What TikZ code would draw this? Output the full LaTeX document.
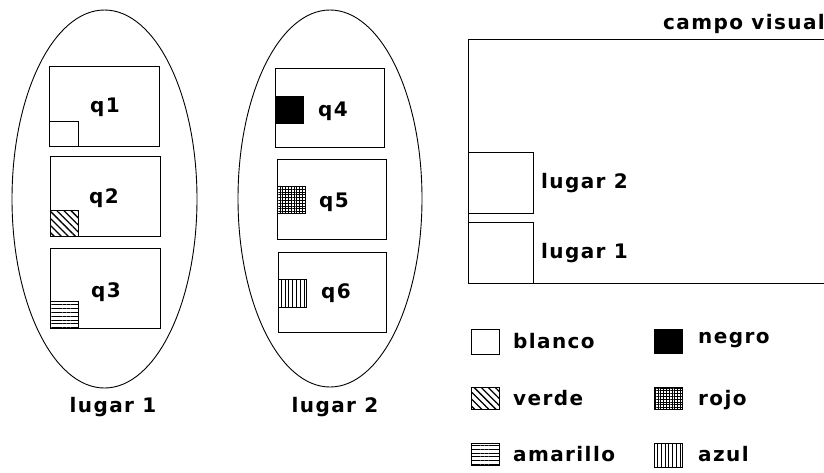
\documentclass[tikz,border=0pt]{standalone}
\usepackage{fontspec}
\setmainfont{DejaVu Sans}[BoldFont={DejaVu Sans Bold}]
\newfontfamily\lblfont{DejaVu Sans Bold}[LetterSpace=7]
\usetikzlibrary{patterns.meta}
\tikzset{
  frame/.style={draw=black, line width=1pt, minimum width=110pt, minimum height=80pt, anchor=north west, inner sep=0pt},
  swatch/.style={draw=black, line width=1pt, minimum width=28pt, minimum height=26pt, inner sep=0pt, anchor=north west},
  lbl/.style={font=\lblfont\fontsize{20}{20}\selectfont, inner sep=0pt},
  verde/.style={pattern={Lines[angle=-45,distance=5pt,line width=1.3pt]}},
  amarillo/.style={pattern={Lines[angle=0,distance=3.8pt,line width=1pt]}},
  azul/.style={pattern={Lines[angle=90,distance=3.8pt,line width=1pt]}},
  rojo/.style={pattern={Hatch[angle=0,distance=2.8pt,line width=0.8pt]}},
}
\begin{document}
\begin{tikzpicture}[x=1pt,y=-1pt]
\path[use as bounding box] (0,0) rectangle (824,472);

% places (ellipses)
\draw[line width=0.9pt] (104.5,199) ellipse [x radius=92.5, y radius=189];
\draw[line width=0.9pt] (330,198.5) ellipse [x radius=92, y radius=188.5];

% lugar 1 cells
\node[frame] (q1box) at (49,66) {};
\node[swatch, minimum width=29pt, minimum height=25pt, anchor=south west] (s1) at (q1box.south west) {};
\node[lbl] (q1) at (105,107) {q1};

\node[frame] (q2box) at (50,156) {};
\node[swatch, verde, minimum width=28pt, anchor=south west] (s2) at (q2box.south west) {};
\node[lbl] (q2) at (104,198) {q2};

\node[frame] (q3box) at (50,248) {};
\node[swatch, amarillo, minimum width=28pt, minimum height=27pt, anchor=south west] (s3) at (q3box.south west) {};
\node[lbl] (q3) at (106,292) {q3};

\node[lbl] (lug1) at (113,407) {lugar 1};

% lugar 2 cells
\node[frame, minimum width=109pt, minimum height=79pt] (q4box) at (275,68) {};
\node[swatch, fill=black, minimum width=28pt, minimum height=27pt] (s4) at (275,96) {};
\node[lbl] (q4) at (333,111) {q4};

\node[frame, minimum width=109pt] (q5box) at (277,159) {};
\node[swatch, rojo, minimum width=28pt, minimum height=27pt] (s5) at (277,186) {};
\node[lbl] (q5) at (334,202) {q5};

\node[frame, minimum width=108pt] (q6box) at (278,252) {};
\node[swatch, azul, minimum width=28pt, minimum height=28pt] (s6) at (278,279) {};
\node[lbl] (q6) at (336,293) {q6};

\node[lbl] (lug2) at (335,407) {lugar 2};

% campo visual
\coordinate (cvtr) at (824,39);
\coordinate (cvbr) at (824,283);
\draw[line width=1pt] (cvtr) -- (468,39) -- (468,283) -- (cvbr);
\node[lbl, anchor=east] (cv) at (825,24) {campo visual};
\node[draw=black, line width=1pt, minimum width=65pt, minimum height=61pt, inner sep=0pt, anchor=north west] (cl2) at (468,152) {};
\node[lbl, anchor=west] (cl2t) at (541,183) {lugar 2};
\node[draw=black, line width=1pt, minimum width=65pt, minimum height=61pt, inner sep=0pt, anchor=north west] (cl1) at (468,222) {};
\node[lbl, anchor=west] (cl1t) at (541,253) {lugar 1};

% legend
\node[swatch, minimum height=25pt] (lb) at (471,329) {};
\node[lbl, anchor=west] (lbt) at (513,341) {blanco};
\node[swatch, fill=black, minimum height=24pt] (ln) at (654,329) {};
\node[lbl, anchor=west] (lnt) at (698,340) {negro};
\node[swatch, verde, minimum height=22pt] (lv) at (471,387) {};
\node[lbl, anchor=west] (lvt) at (513,398) {verde};
\node[swatch, rojo, minimum height=22pt] (lr) at (654,387) {};
\node[lbl, anchor=west] (lrt) at (698,400) {rojo};
\node[swatch, amarillo, minimum height=22pt] (la) at (471,443) {};
\node[lbl, anchor=west] (lat) at (513,454) {amarillo};
\node[swatch, azul, minimum height=24pt] (lz) at (654,443) {};
\node[lbl, anchor=west] (lzt) at (698,454) {azul};
\end{tikzpicture}
\end{document}
